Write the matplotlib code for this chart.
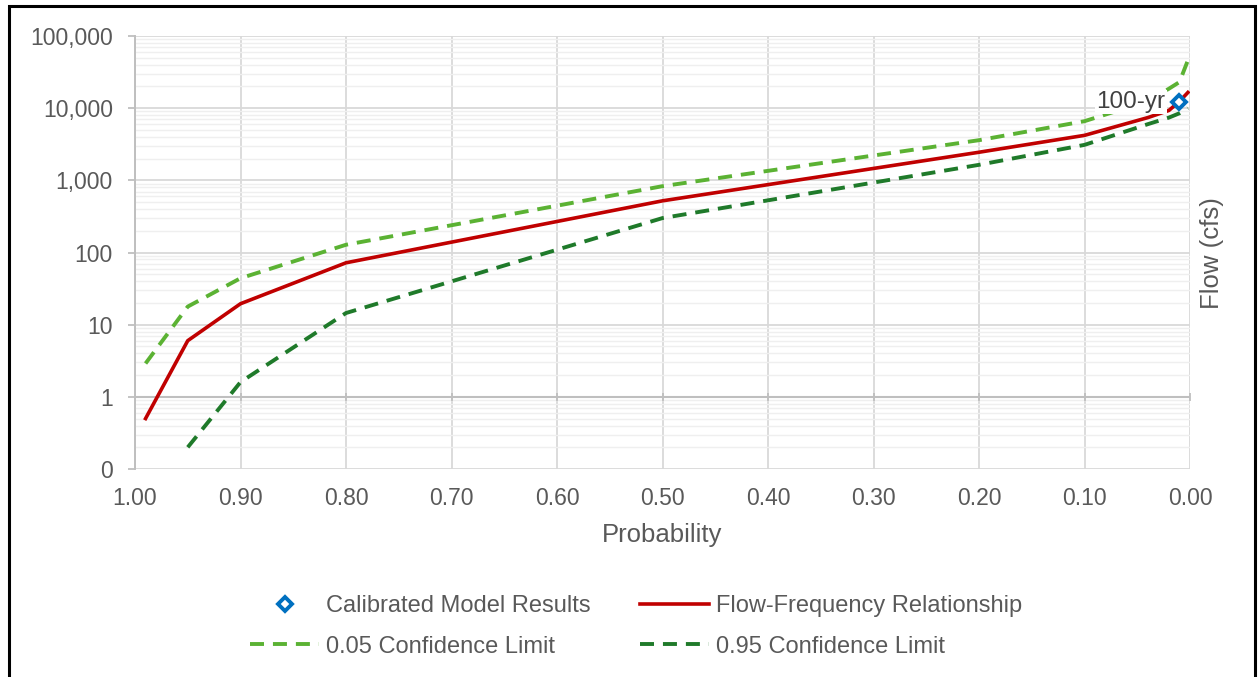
import matplotlib
matplotlib.use("Agg")
import matplotlib.pyplot as plt
import numpy as np
from matplotlib.ticker import FuncFormatter, FixedLocator, LogLocator, NullFormatter
from matplotlib.patches import Rectangle
from matplotlib.lines import Line2D

plt.rcParams['font.family'] = ['Liberation Sans', 'DejaVu Sans']

# ---- data ----
prob = [0.99, 0.95, 0.90, 0.80, 0.50, 0.20, 0.10, 0.04, 0.02, 0.01, 0.002]
flow_freq = [0.5, 6, 19.5, 72, 520, 2450, 4200, 7400, 9300, 12400, 16500]
upper_05 = [2.9, 17.8, 44, 128, 830, 3600, 6600, 12500, 18600, 23000, 46000]
prob_lower = [0.95, 0.90, 0.80, 0.50, 0.20, 0.10, 0.04, 0.02, 0.01, 0.002]
lower_95 = [0.2, 1.6, 14.5, 300, 1640, 3100, 6000, 7400, 8500, 10000]
calib_prob = [0.01]
calib_flow = [12200]
calib_label = "100-yr"
x_ticks = [1.0, 0.9, 0.8, 0.7, 0.6, 0.5, 0.4, 0.3, 0.2, 0.1, 0.0]
y_ticks = [0.1, 1, 10, 100, 1000, 10000, 100000]

W, H = 1259, 677
fig = plt.figure(figsize=(W / 100, H / 100), dpi=100)
ax = fig.add_axes([135 / W, 1 - 469 / H, (1190 - 135) / W, (469 - 36) / H])

txt = '#595959'
red = '#C00000'
lgreen = '#5BB233'
dgreen = '#1F7A2A'
blue = '#0070C0'

ax.set_yscale('log')
ax.set_ylim(0.1, 100000)
ax.set_xlim(1.0, 0.0)

# grid
ax.yaxis.set_major_locator(FixedLocator(y_ticks))
ax.yaxis.set_minor_locator(LogLocator(base=10, subs=np.arange(2, 10)))
ax.yaxis.set_minor_formatter(NullFormatter())
ax.yaxis.set_major_formatter(FuncFormatter(lambda v, p: f"{v:,.0f}"))
ax.xaxis.set_major_locator(FixedLocator(x_ticks))
ax.xaxis.set_major_formatter(FuncFormatter(lambda v, p: f"{v:.2f}"))

ax.grid(True, which='major', axis='both', color='#D9D9D9', lw=1.3, zorder=0)
ax.grid(True, which='minor', axis='y', color='#EFEFEF', lw=1.0, zorder=0)
ax.set_axisbelow(True)

for s in ['top', 'right', 'bottom']:
    ax.spines[s].set_visible(False)
ax.spines['left'].set_color('#BFBFBF')
ax.spines['left'].set_linewidth(1.4)

ax.tick_params(axis='y', which='major', direction='out', length=5, width=1.3,
               color='#BFBFBF', labelsize=16.5, labelcolor=txt, pad=11)
ax.tick_params(axis='y', which='minor', length=0)
ax.tick_params(axis='x', which='major', length=0, labelsize=16.5, labelcolor=txt, pad=13)

# horizontal axis crossing at 1
ax.axhline(1, color='#BFBFBF', lw=1.5, zorder=1)
ax.plot(x_ticks, [1] * len(x_ticks), linestyle='none', marker='|', ms=6, mew=1.3,
        color='#BFBFBF', zorder=1)

# series
ax.plot(prob, upper_05, color=lgreen, lw=2.8, dashes=(3.6, 2.3), zorder=3,
        dash_capstyle='butt')
ax.plot(prob_lower, lower_95, color=dgreen, lw=2.8, dashes=(3.6, 2.3), zorder=3,
        dash_capstyle='butt')
ax.plot(prob, flow_freq, color=red, lw=2.6, zorder=4)
ax.plot(calib_prob, calib_flow, linestyle='none', marker='D', ms=7.5, mew=2.8,
        mfc='white', mec=blue, zorder=6, clip_on=False)
ax.annotate(calib_label, xy=(calib_prob[0], calib_flow[0]), xytext=(-14, 0),
            textcoords='offset pixels', ha='right', va='center', fontsize=17.5,
            color='#404040', zorder=5,
            bbox=dict(boxstyle='square,pad=0.05', fc='white', ec='none'))

ax.set_xlabel('Probability', fontsize=18.5, color=txt, va='center')
ax.xaxis.set_label_coords(0.5, (469 - 535) / (469 - 36))

fig.text(1212 / W, 1 - 253 / H, 'Flow (cfs)', rotation=90, ha='center', va='center',
         fontsize=18.5, color=txt)

# legend
handles = [
    Line2D([], [], linestyle='none', marker='D', ms=7.5, mew=2.8, mfc='white', mec=blue),
    Line2D([], [], color=lgreen, lw=2.8, dashes=(3.6, 2.3)),
    Line2D([], [], color=red, lw=2.6),
    Line2D([], [], color=dgreen, lw=2.8, dashes=(3.6, 2.3)),
]
labels = ['Calibrated Model Results', '0.05 Confidence Limit',
          'Flow-Frequency Relationship', '0.95 Confidence Limit']
leg = fig.legend(handles, labels, ncol=2, loc='center',
                 bbox_to_anchor=(636 / W, 1 - 626.5 / H), frameon=False,
                 fontsize=17, handlelength=2.9, handletextpad=0.3,
                 columnspacing=2.1, labelspacing=0.78, labelcolor=txt)

# outer frame
fig.patches.append(Rectangle((9 / W, -0.05), (1255 - 9) / W, 1.05 - 6 / H,
                             transform=fig.transFigure, fill=False, ec='black',
                             lw=2.2, zorder=10))

fig.savefig('out.png', dpi=100)
